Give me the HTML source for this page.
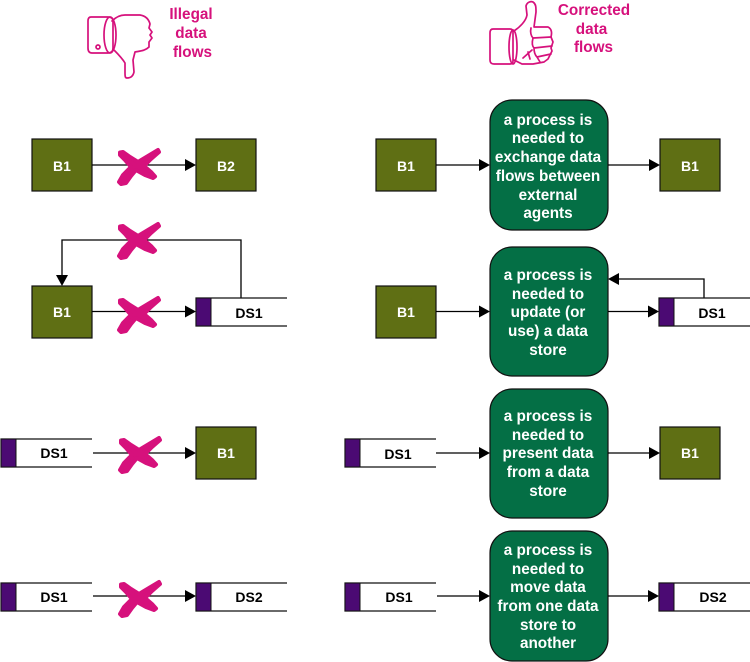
<!DOCTYPE html>
<html><head><meta charset="utf-8"><style>
html,body{margin:0;padding:0;background:#fff}
svg{display:block}
text{font-family:"Liberation Sans",sans-serif;font-weight:bold;font-size:14px;text-anchor:middle}
.w{fill:#fff}.k{fill:#000}.m{fill:#d6117c;font-size:15.3px}
.t{fill:#fff;font-size:15.3px}
.b{fill:#5f6f14;stroke:#111;stroke-width:1.2}
.p{fill:#046f45;stroke:#111;stroke-width:1.2}
.l{stroke:#000;stroke-width:1.3;fill:none}
.h{fill:none;stroke:#d6117c;stroke-width:1.7;stroke-linejoin:round;stroke-linecap:round}
</style></head><body>
<svg width="750" height="662" viewBox="0 0 750 662" xmlns="http://www.w3.org/2000/svg">
<defs>
<g id="x"><path d="M-17-12.500L-14-13L-7-8L1-3L11-9L21-15L22-13L14-6L7 1L14 7L18 11.500L16 13L8 10L-1 5L-6 11L-11 18L-16 19L-18 17L-14 10L-6 2L-12-5L-17-10Z" fill="#d6117c" stroke="#d6117c" stroke-width="4" stroke-linejoin="round"/></g>
<g id="ds"><rect x="0" y="0" width="91" height="28" fill="#fff"/><path d="M91 0H0V28H91" fill="none" stroke="#111" stroke-width="1.2"/><rect x="0" y="0" width="15" height="28" fill="#4b0a73" stroke="#111" stroke-width="1"/></g>
<path id="ar" d="M0 0L-11-6V6Z" fill="#000"/>
</defs>

<!-- Thumb down -->
<path class="h" d="M91 17H108Q113 17 113 21V48Q113 53 108 53H92Q88 53 88 48V21Q88 17 91 17Z"/>
<ellipse class="h" cx="110" cy="35" rx="6" ry="18"/>
<circle class="h" cx="98" cy="47" r="2"/>
<path class="h" d="M112 21C116 17 120 15 125 15H140C146 16 149 20 150 24L149 28L152 32L150 35L152 38L149 42L149 47C145 51 140 51 135 52L133 60L134 72C133 77 130 78 127 78C125 78 125 76 125 72L125 63C122 58 118 54 114 50"/>
<text class="m" x="191" y="19">Illegal</text>
<text class="m" x="191" y="38">data</text>
<text class="m" x="192.500" y="57">flows</text>

<!-- Thumb up -->
<path class="h" d="M493 29H510Q513 29 513 32V61Q513 64 510 64H494Q490 64 490 60V33Q490 29 493 29Z"/>
<ellipse class="h" cx="513" cy="47" rx="4" ry="17"/>
<path class="h" d="M514 31C520 27 526 21 527 15L526 6C527 2 531 1 533 2C536 4 536 7 536 12L534 27H548C552 29 552 33 551 37L553 42L551 48L552 51L548 59L544 62L533 64H522L514 60"/>
<path class="h" d="M531 28C530 32 531 36 533 38L551 37M533 38C532 42 532 46 534 48L552 46M534 48C534 52 535 55 537 57L551 54M537 57L540 62M523 58L532 50M528 52L530 59"/>
<text class="m" x="594" y="15">Corrected</text>
<text class="m" x="591.500" y="34">data</text>
<text class="m" x="593.500" y="52">flows</text>

<!-- Left column -->
<rect class="b" x="32" y="139" width="60" height="52"/><text class="w" x="62" y="171">B1</text>
<rect class="b" x="196" y="139" width="60" height="52"/><text class="w" x="226" y="171">B2</text>
<path class="l" d="M92 165H186"/><use href="#ar" x="196" y="165"/>
<use href="#x" x="137" y="165"/>

<path class="l" d="M241 298V240H62V276"/><use href="#ar" transform="translate(62 286) rotate(90)"/>
<use href="#x" x="137" y="239"/>
<rect class="b" x="32" y="286" width="60" height="52"/><text class="w" x="62" y="317">B1</text>
<path class="l" d="M92 311.500H186"/><use href="#ar" x="196" y="311.500"/>
<use href="#ds" x="196" y="298"/><text class="k" x="249" y="318">DS1</text>
<use href="#x" x="137" y="313"/>

<use href="#ds" x="1" y="439"/><text class="k" x="54" y="458">DS1</text>
<path class="l" d="M93 453H186"/><use href="#ar" x="196" y="453"/>
<rect class="b" x="196" y="427" width="60" height="52"/><text class="w" x="226" y="458">B1</text>
<use href="#x" x="138" y="453"/>

<use href="#ds" x="1" y="583"/><text class="k" x="54" y="602">DS1</text>
<path class="l" d="M93 596H186"/><use href="#ar" x="196" y="596"/>
<use href="#ds" x="196" y="583"/><text class="k" x="249" y="602">DS2</text>
<use href="#x" x="138" y="597"/>

<!-- Right column row 1 -->
<rect class="b" x="376" y="139" width="60" height="52"/><text class="w" x="406" y="171">B1</text>
<path class="l" d="M436 165H480"/><use href="#ar" x="490" y="165"/>
<rect class="p" x="490" y="100" width="118" height="130" rx="22"/>
<text class="t" x="548" y="125">a process is</text>
<text class="t" x="548" y="143">needed to</text>
<text class="t" x="548" y="162">exchange data</text>
<text class="t" x="548" y="181">flows between</text>
<text class="t" x="548" y="200">external</text>
<text class="t" x="548" y="218">agents</text>
<path class="l" d="M608 165H650"/><use href="#ar" x="660" y="165"/>
<rect class="b" x="660" y="139" width="60" height="52"/><text class="w" x="690" y="171">B1</text>

<!-- Row 2 -->
<rect class="b" x="376" y="286" width="60" height="52"/><text class="w" x="406" y="317">B1</text>
<path class="l" d="M436 311.500H480"/><use href="#ar" x="490" y="311.500"/>
<rect class="p" x="490" y="247" width="118" height="129" rx="22"/>
<text class="t" x="548" y="280">a process is</text>
<text class="t" x="548" y="299">needed to</text>
<text class="t" x="548" y="317">update (or</text>
<text class="t" x="548" y="336">use) a data</text>
<text class="t" x="548" y="355">store</text>
<path class="l" d="M608 311.500H649"/><use href="#ar" x="659" y="311.500"/>
<path class="l" d="M704 298V279H618"/><use href="#ar" transform="translate(608 279) rotate(180)"/>
<use href="#ds" x="659" y="298"/><text class="k" x="712" y="318">DS1</text>

<!-- Row 3 -->
<use href="#ds" x="345" y="439"/><text class="k" x="398" y="459">DS1</text>
<path class="l" d="M436 453H480"/><use href="#ar" x="490" y="453"/>
<rect class="p" x="490" y="389" width="118" height="129" rx="22"/>
<text class="t" x="548" y="421">a process is</text>
<text class="t" x="548" y="440">needed to</text>
<text class="t" x="548" y="458">present data</text>
<text class="t" x="548" y="477">from a data</text>
<text class="t" x="548" y="496">store</text>
<path class="l" d="M608 453H650"/><use href="#ar" x="660" y="453"/>
<rect class="b" x="660" y="427" width="60" height="52"/><text class="w" x="690" y="458">B1</text>

<!-- Row 4 -->
<use href="#ds" x="345" y="583"/><text class="k" x="399" y="602">DS1</text>
<path class="l" d="M437 596H480"/><use href="#ar" x="490" y="596"/>
<rect class="p" x="490" y="531" width="118" height="130" rx="22"/>
<text class="t" x="548" y="555">a process is</text>
<text class="t" x="548" y="574">needed to</text>
<text class="t" x="548" y="592">move data</text>
<text class="t" x="548" y="611">from one data</text>
<text class="t" x="548" y="630">store to</text>
<text class="t" x="548" y="648">another</text>
<path class="l" d="M608 596H649"/><use href="#ar" x="659" y="596"/>
<use href="#ds" x="659" y="583"/><text class="k" x="713" y="602">DS2</text>
</svg>
</body></html>
